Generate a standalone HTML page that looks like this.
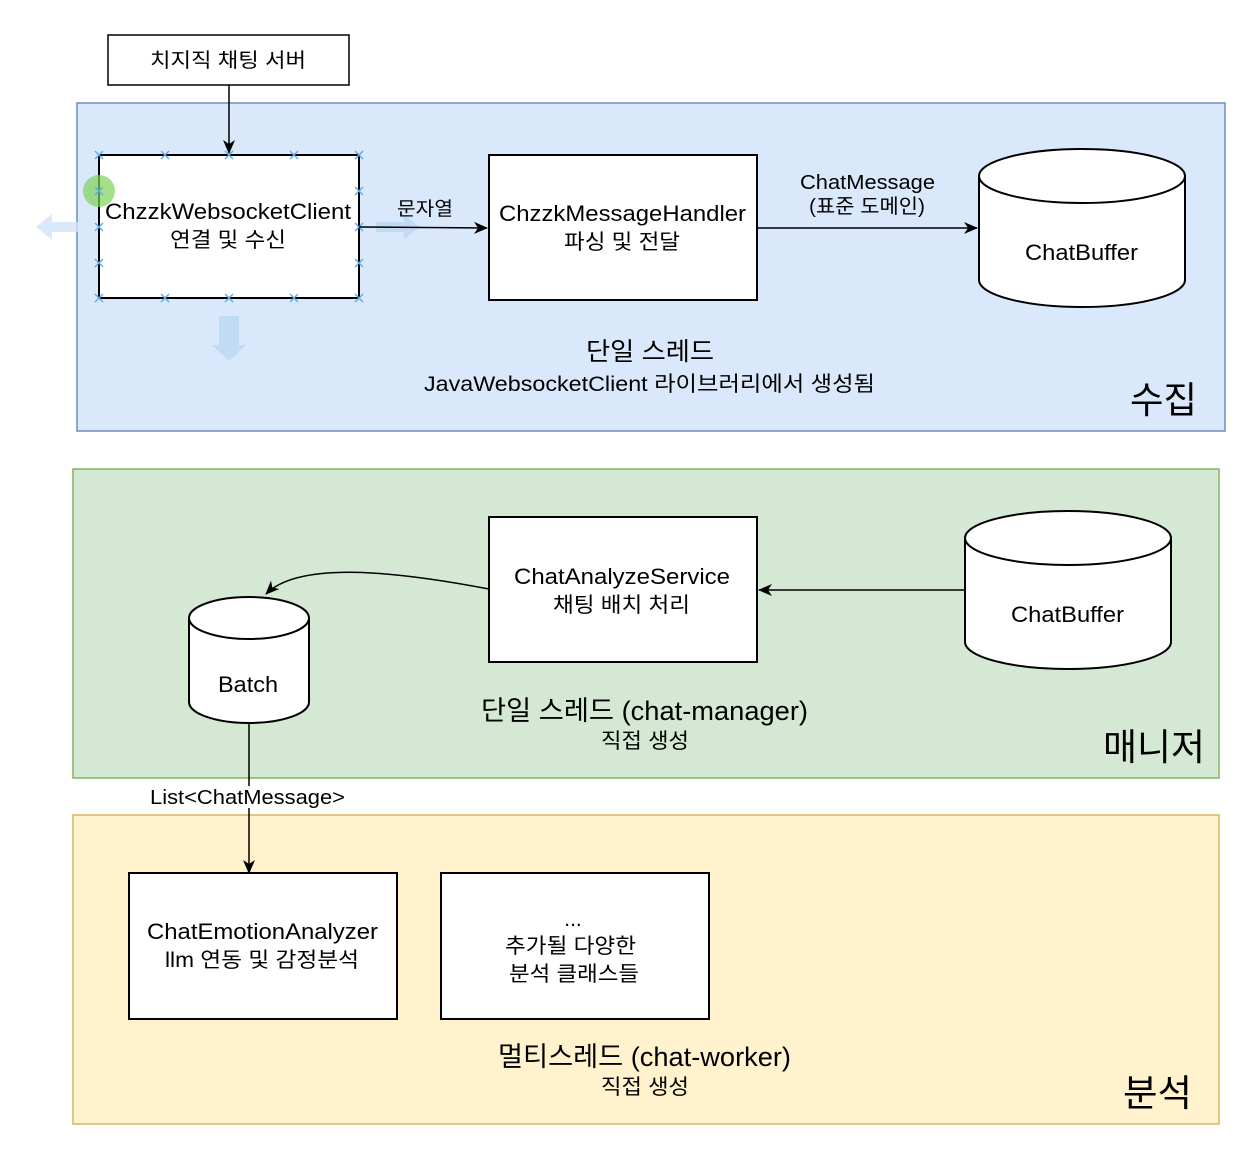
<!DOCTYPE html>
<html><head><meta charset="utf-8"><style>
html,body{margin:0;padding:0;background:#fff}
svg text{font-family:"Liberation Sans","Noto Sans CJK KR",sans-serif;fill:#000}
</style></head><body>
<svg width="1260" height="1162" viewBox="0 0 1260 1162" xmlns="http://www.w3.org/2000/svg">
<defs><marker id="a" markerWidth="14" markerHeight="14" refX="13" refY="7" orient="auto" markerUnits="userSpaceOnUse"><path d="M0,1 L14,7 L0,13 L4,7 Z" fill="#000"/></marker></defs>
<rect x="77" y="103" width="1148" height="328" fill="#dae8fc" stroke="#6c8ebf" stroke-width="1.5"/>
<rect x="73" y="469" width="1146" height="309" fill="#d5e8d4" stroke="#82b366" stroke-width="1.5"/>
<rect x="73" y="815" width="1146" height="309" fill="#fff2cc" stroke="#d6b656" stroke-width="1.5"/>
<rect x="108" y="35" width="241" height="50" fill="#fff" stroke="#000" stroke-width="1.5"/>
<text x="150" y="67" font-size="20" textLength="156" lengthAdjust="spacingAndGlyphs">치지직 채팅 서버</text>
<line x1="229" y1="85" x2="229" y2="153" stroke="#000" stroke-width="1.5" marker-end="url(#a)"/>
<path d="M78,222 L78,232 L52,232 L52,240 L36,227 L52,214 L52,222 Z" fill="#cfe3f7" opacity="0.8"/>
<path d="M219,316 L239,316 L239,345 L246,345 L229,361 L212,345 L219,345 Z" fill="#c2dbf5"/>
<path d="M376,222 L404,222 L404,215 L420,227 L404,239 L404,232 L376,232 Z" fill="#c2dbf5"/>
<rect x="99" y="155" width="260" height="143" fill="#fff" stroke="#000" stroke-width="2"/>
<circle cx="99" cy="191" r="16" fill="#7fd35a" opacity="0.7"/>
<g stroke="#5aa9e6" stroke-width="1.3">
<path d="M95,151l8,8m0,-8l-8,8 M161,151l8,8m0,-8l-8,8 M225,151l8,8m0,-8l-8,8 M290,151l8,8m0,-8l-8,8 M355,151l8,8m0,-8l-8,8 M95,294l8,8m0,-8l-8,8 M161,294l8,8m0,-8l-8,8 M225,294l8,8m0,-8l-8,8 M290,294l8,8m0,-8l-8,8 M355,294l8,8m0,-8l-8,8 M95,187l8,8m0,-8l-8,8 M95,223l8,8m0,-8l-8,8 M95,259l8,8m0,-8l-8,8 M355,187l8,8m0,-8l-8,8 M355,223l8,8m0,-8l-8,8 M355,259l8,8m0,-8l-8,8"/>
</g>
<text x="105" y="219" font-size="22" textLength="246" lengthAdjust="spacingAndGlyphs">ChzzkWebsocketClient</text>
<text x="170" y="247" font-size="21" textLength="116" lengthAdjust="spacingAndGlyphs">연결 및 수신</text>
<line x1="359" y1="227" x2="487" y2="228" stroke="#000" stroke-width="1.5" marker-end="url(#a)"/>
<text x="397" y="215" font-size="19" textLength="56" lengthAdjust="spacingAndGlyphs">문자열</text>
<rect x="489" y="155" width="268" height="145" fill="#fff" stroke="#000" stroke-width="2"/>
<text x="499" y="221" font-size="22" textLength="247" lengthAdjust="spacingAndGlyphs">ChzzkMessageHandler</text>
<text x="564" y="249" font-size="21" textLength="116" lengthAdjust="spacingAndGlyphs">파싱 및 전달</text>
<line x1="757" y1="228" x2="977" y2="228" stroke="#000" stroke-width="1.5" marker-end="url(#a)"/>
<text x="800" y="189" font-size="20" textLength="135" lengthAdjust="spacingAndGlyphs">ChatMessage</text>
<text x="809" y="213" font-size="20" textLength="116" lengthAdjust="spacingAndGlyphs">(표준 도메인)</text>
<path d="M979,176 L979,280 A103,27 0 0 0 1185,280 L1185,176" fill="#fff" stroke="#000" stroke-width="2"/>
<ellipse cx="1082" cy="176" rx="103" ry="27" fill="#fff" stroke="#000" stroke-width="2"/>
<text x="1025" y="260" font-size="22" textLength="113" lengthAdjust="spacingAndGlyphs">ChatBuffer</text>
<text x="586" y="360" font-size="25" textLength="128" lengthAdjust="spacingAndGlyphs">단일 스레드</text>
<text x="424" y="391" font-size="21" textLength="451" lengthAdjust="spacingAndGlyphs">JavaWebsocketClient 라이브러리에서 생성됨</text>
<text x="1130" y="413" font-size="37" textLength="67" lengthAdjust="spacingAndGlyphs">수집</text>
<rect x="489" y="517" width="268" height="145" fill="#fff" stroke="#000" stroke-width="2"/>
<text x="514" y="584" font-size="22" textLength="216" lengthAdjust="spacingAndGlyphs">ChatAnalyzeService</text>
<text x="553" y="612" font-size="21" textLength="137" lengthAdjust="spacingAndGlyphs">채팅 배치 처리</text>
<path d="M965,538 L965,642 A103,27 0 0 0 1171,642 L1171,538" fill="#fff" stroke="#000" stroke-width="2"/>
<ellipse cx="1068" cy="538" rx="103" ry="27" fill="#fff" stroke="#000" stroke-width="2"/>
<text x="1011" y="622" font-size="22" textLength="113" lengthAdjust="spacingAndGlyphs">ChatBuffer</text>
<line x1="965" y1="590" x2="759" y2="590" stroke="#000" stroke-width="1.5" marker-end="url(#a)"/>
<path d="M489,589 C400,572 300,560 266,594" fill="none" stroke="#000" stroke-width="1.5" marker-end="url(#a)"/>
<path d="M189,618 L189,702 A60,21 0 0 0 309,702 L309,618" fill="#fff" stroke="#000" stroke-width="2"/>
<ellipse cx="249" cy="618" rx="60" ry="21" fill="#fff" stroke="#000" stroke-width="2"/>
<text x="218" y="692" font-size="22" textLength="60" lengthAdjust="spacingAndGlyphs">Batch</text>
<text x="481" y="720" font-size="27" textLength="327" lengthAdjust="spacingAndGlyphs">단일 스레드 (chat-manager)</text>
<text x="601" y="748" font-size="21" textLength="88" lengthAdjust="spacingAndGlyphs">직접 생성</text>
<text x="1103" y="760" font-size="37" textLength="102" lengthAdjust="spacingAndGlyphs">매니저</text>
<line x1="249" y1="723" x2="249" y2="873" stroke="#000" stroke-width="1.5" marker-end="url(#a)"/>
<rect x="145" y="786" width="205" height="22" fill="#fff"/>
<text x="150" y="804" font-size="20" textLength="195" lengthAdjust="spacingAndGlyphs">List&lt;ChatMessage&gt;</text>
<rect x="129" y="873" width="268" height="146" fill="#fff" stroke="#000" stroke-width="2"/>
<text x="147" y="939" font-size="22" textLength="231" lengthAdjust="spacingAndGlyphs">ChatEmotionAnalyzer</text>
<text x="165" y="967" font-size="21" textLength="194" lengthAdjust="spacingAndGlyphs">llm 연동 및 감정분석</text>
<rect x="441" y="873" width="268" height="146" fill="#fff" stroke="#000" stroke-width="2"/>
<text x="573" y="926" font-size="21" text-anchor="middle">...</text>
<text x="505" y="953" font-size="21" textLength="131" lengthAdjust="spacingAndGlyphs">추가될 다양한</text>
<text x="509" y="981" font-size="21" textLength="130" lengthAdjust="spacingAndGlyphs">분석 클래스들</text>
<text x="498" y="1066" font-size="27" textLength="293" lengthAdjust="spacingAndGlyphs">멀티스레드 (chat-worker)</text>
<text x="601" y="1094" font-size="21" textLength="88" lengthAdjust="spacingAndGlyphs">직접 생성</text>
<text x="1123" y="1106" font-size="37" textLength="69" lengthAdjust="spacingAndGlyphs">분석</text>
</svg>
</body></html>
